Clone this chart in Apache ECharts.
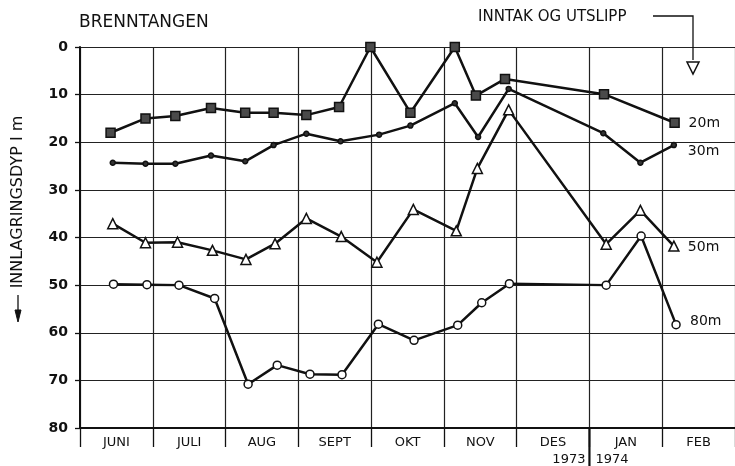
<!DOCTYPE html>
<html>
<head>
<meta charset="utf-8">
<script src="https://cdn.jsdelivr.net/npm/echarts@6/dist/echarts.min.js"></script>
<style>
  html, body { margin: 0; background: #fff; }
  #main { width: 735px; height: 466px; }
</style>
</head>
<body>
<div id="main"></div>
<script>
// month columns on the x axis (0 = start of JUNI, 9 = end of FEB)
var months = ['JUNI', 'JULI', 'AUG', 'SEPT', 'OKT', 'NOV', 'DES', 'JAN', 'FEB'];
var depthTicks = [0, 10, 20, 30, 40, 50, 60, 70, 80];

// 20 m
var x20 = [0.42, 0.90, 1.31, 1.80, 2.27, 2.66, 3.11, 3.56, 3.99, 4.54, 5.15, 5.44, 5.84, 7.20, 8.17];
var d20 = [18.0, 15.0, 14.5, 12.8, 13.8, 13.8, 14.3, 12.6, 0, 13.8, 0, 10.2, 6.7, 9.9, 15.9];
// 30 m
var x30 = [0.45, 0.90, 1.31, 1.80, 2.27, 2.66, 3.11, 3.58, 4.11, 4.54, 5.15, 5.47, 5.89, 7.19, 7.70, 8.16];
var d30 = [24.3, 24.5, 24.5, 22.8, 24.0, 20.6, 18.2, 19.8, 18.4, 16.5, 11.8, 18.9, 8.8, 18.1, 24.3, 20.6];
// 50 m
var x50 = [0.45, 0.90, 1.34, 1.82, 2.28, 2.68, 3.11, 3.59, 4.08, 4.58, 5.17, 5.46, 5.89, 7.23, 7.70, 8.16];
var d50 = [37.1, 41.1, 41.0, 42.7, 44.6, 41.3, 36.0, 39.8, 45.2, 34.1, 38.6, 25.5, 13.2, 41.4, 34.3, 41.8];
// 80 m
var x80 = [0.46, 0.92, 1.36, 1.85, 2.31, 2.71, 3.16, 3.60, 4.10, 4.59, 5.19, 5.52, 5.90, 7.23, 7.71, 8.19];
var d80 = [49.8, 49.9, 50.0, 52.8, 70.8, 66.8, 68.7, 68.8, 58.2, 61.6, 58.4, 53.7, 49.7, 50.0, 39.7, 58.3];

var FONT = 'DejaVu Sans';
var INK = '#111';

function pairs(xs, ys) {
    return xs.map(function (x, i) { return [x, ys[i]]; });
}

function lineSeries(name, xs, ys, symbol, size, fill, label, labelOffset) {
    return {
        name: name,
        type: 'line',
        xAxisIndex: 0,
        data: pairs(xs, ys),
        symbol: symbol,
        symbolSize: size,
        showAllSymbol: true,
        lineStyle: { color: INK, width: 2.5 },
        itemStyle: { color: fill, borderColor: INK, borderWidth: 1.5 },
        endLabel: {
            show: true,
            formatter: label,
            distance: 14,
            offset: labelOffset,
            fontFamily: FONT,
            fontSize: 14,
            color: INK
        },
        z: 3
    };
}

var myChart = echarts.init(document.getElementById('main'));

var option = {
    animation: false,
    backgroundColor: '#fff',
    grid: { left: 80, right: 0, top: 47, bottom: 38 },
    xAxis: [{
        type: 'value',
        position: 'bottom',
        min: 0,
        max: 9,
        interval: 1,
        axisLine: { show: true, onZero: false, lineStyle: { color: INK, width: 2.2 } },
        axisTick: { show: true, inside: false, length: 19, lineStyle: { color: INK, width: 1.3 } },
        axisLabel: { show: false },
        splitLine: { show: true, lineStyle: { color: '#222', width: 1.2 } }
    }, {
        type: 'category',
        position: 'bottom',
        data: months,
        boundaryGap: true,
        axisLine: { show: false, onZero: false },
        axisTick: { show: false },
        splitLine: { show: false },
        axisLabel: { margin: 8, fontFamily: FONT, fontSize: 13, color: INK }
    }],
    yAxis: {
        type: 'value',
        inverse: true,
        min: 0,
        max: 80,
        interval: 10,
        axisLine: { show: true, onZero: false, lineStyle: { color: INK, width: 2 } },
        axisTick: { show: true, length: 5, lineStyle: { color: INK, width: 1.3 } },
        axisLabel: {
            margin: 12,
            fontFamily: FONT,
            fontSize: 14,
            fontWeight: 'bold',
            color: INK,
            formatter: function (v) { return depthTicks.indexOf(v) >= 0 ? String(v) : ''; }
        },
        splitLine: { show: true, lineStyle: { color: '#222', width: 1.2 } }
    },
    series: [
        lineSeries('20m', x20, d20, 'rect', 9, '#4a4a4a', '20m', [0, 1]),
        lineSeries('30m', x30, d30, 'circle', 5, '#333', '30m', [0, 6]),
        lineSeries('50m', x50, d50, 'triangle', 10, '#fff', '50m', [0, 1]),
        lineSeries('80m', x80, d80, 'circle', 8, '#fff', '80m', [0, -3])
    ]
};
myChart.setOption(option);

// annotations drawn around the plot
var yearX = myChart.convertToPixel({ xAxisIndex: 0 }, 7);
var axisY = myChart.convertToPixel({ yAxisIndex: 0 }, 80);

myChart.setOption({
    graphic: [
        {
            type: 'text', left: 79, top: 14,
            style: { text: 'BRENNTANGEN', font: '17px "DejaVu Sans"', fill: INK }
        },
        {
            type: 'text', left: 478, top: 10,
            style: { text: 'INNTAK OG UTSLIPP', font: '15px "DejaVu Sans"', fill: INK }
        },
        {
            type: 'polyline',
            shape: { points: [[653, 16], [693, 16], [693, 60]] },
            style: { stroke: INK, lineWidth: 1.3, fill: null }
        },
        {
            type: 'polygon',
            shape: { points: [[687, 62], [699, 62], [693, 74]] },
            style: { stroke: INK, lineWidth: 1.5, fill: '#fff' }
        },
        {
            type: 'text', x: 18, y: 202, rotation: Math.PI / 2,
            style: {
                text: 'INNLAGRINGSDYP I m', font: '16px "DejaVu Sans"', fill: INK,
                align: 'center', verticalAlign: 'middle'
            }
        },
        {
            type: 'line',
            shape: { x1: 18, y1: 295, x2: 18, y2: 316 },
            style: { stroke: INK, lineWidth: 1.3 }
        },
        {
            type: 'polygon',
            shape: { points: [[15, 310], [21, 310], [18, 322]] },
            style: { fill: INK, stroke: INK, lineWidth: 1 }
        },
        {
            type: 'line',
            shape: { x1: yearX, y1: axisY, x2: yearX, y2: 466 },
            style: { stroke: INK, lineWidth: 2.2 }
        },
        {
            type: 'text', x: yearX - 4, y: 460,
            style: {
                text: '1973', font: '13px "DejaVu Sans"', fill: INK,
                align: 'right', verticalAlign: 'middle'
            }
        },
        {
            type: 'text', x: yearX + 6, y: 460,
            style: {
                text: '1974', font: '13px "DejaVu Sans"', fill: INK,
                align: 'left', verticalAlign: 'middle'
            }
        }
    ]
});
</script>
</body>
</html>
